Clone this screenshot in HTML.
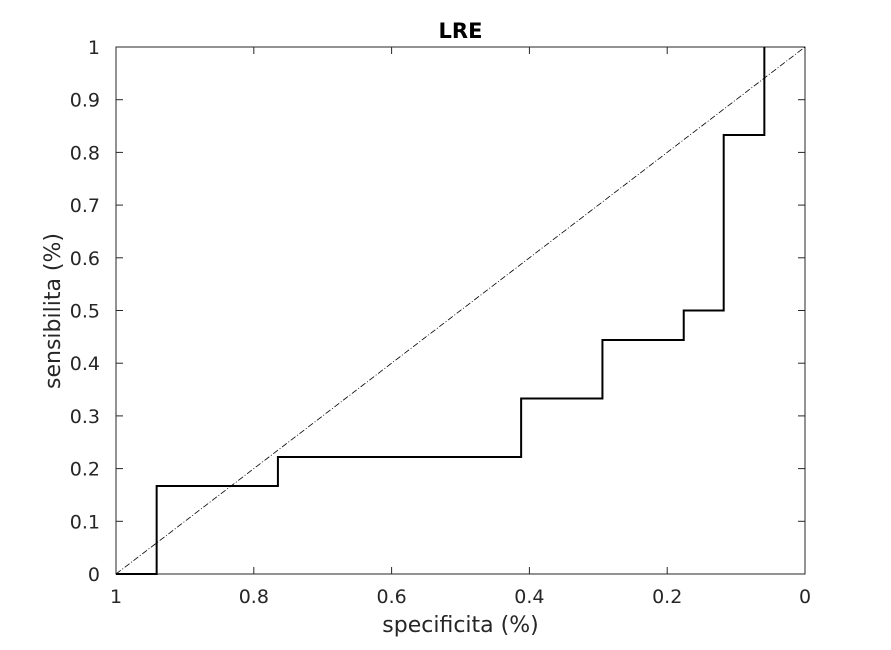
<!DOCTYPE html>
<html><head><meta charset="utf-8"><style>
body{margin:0;background:#fff;}
svg text{font-family:"DejaVu Sans","Liberation Sans",sans-serif;fill:#262626;}
</style></head><body>
<svg width="891" height="645">
<rect x="0" y="0" width="891" height="645" fill="#fff"/>
<g id="plot"></g>
</svg>
<script>
const specificity=[1,0.941,0.941,0.765,0.765,0.412,0.412,0.294,0.294,0.176,0.176,0.118,0.118,0.059,0.059];
const sensitivity=[0,0,0.167,0.167,0.222,0.222,0.333,0.333,0.444,0.444,0.5,0.5,0.833,0.833,1];
const xTicks=[1,0.8,0.6,0.4,0.2,0];
const xTickLabels=["1","0.8","0.6","0.4","0.2","0"];
const yTicks=[0,0.1,0.2,0.3,0.4,0.5,0.6,0.7,0.8,0.9,1];
const yTickLabels=["0","0.1","0.2","0.3","0.4","0.5","0.6","0.7","0.8","0.9","1"];
const L=116,R=805,T=47,B=574;
const xs=v=>L+(1-v)*(R-L);
const ys=v=>B-v*(B-T);
const g=document.getElementById('plot');
const NS='http://www.w3.org/2000/svg';
function mk(t,a){const e=document.createElementNS(NS,t);for(const k in a)e.setAttribute(k,a[k]);g.appendChild(e);return e;}
let e=mk('rect',{x:L,y:T,width:R-L,height:B-T,fill:'#fff',stroke:'#262626','stroke-width':1});


xTicks.forEach((v,i)=>{
 const x=xs(v);
 let t=mk('line',{x1:x,x2:x,y1:B,y2:B-7,stroke:'#262626'});
 
 
 t=mk('line',{x1:x,x2:x,y1:T,y2:T+7,stroke:'#262626'});
 
 
 const l=mk('text',{x:x,y:B+29,'text-anchor':'middle','font-size':19});l.textContent=xTickLabels[i];
 
 
});
yTicks.forEach((v,i)=>{
 const y=ys(v);
 let t=mk('line',{x1:L,x2:L+7,y1:y,y2:y,stroke:'#262626'});
 
 
 t=mk('line',{x1:R,x2:R-7,y1:y,y2:y,stroke:'#262626'});
 
 
 const l=mk('text',{x:L-16,y:y+7,'text-anchor':'end','font-size':19});l.textContent=yTickLabels[i];
 
 
});
e=mk('line',{x1:xs(1),y1:ys(0),x2:xs(0),y2:ys(1),stroke:'#000','stroke-width':0.8,'stroke-dasharray':'6 2 1 2'});


e=mk('polyline',{points:specificity.map((v,i)=>xs(v)+','+ys(sensitivity[i])).join(' '),fill:'none',stroke:'#000','stroke-width':2});


e=mk('text',{x:(L+R)/2,y:38,'text-anchor':'middle','font-size':21,'font-weight':'bold'});e.textContent='LRE';
e.style.fill='#000';


e=mk('text',{x:(L+R)/2,y:632,'text-anchor':'middle','font-size':22});e.textContent='specificita (%)';


e=mk('text',{x:0,y:0,'text-anchor':'middle','font-size':22,transform:'translate(60,311) rotate(-90)'});e.textContent='sensibilita (%)';


</script>
</body></html>
